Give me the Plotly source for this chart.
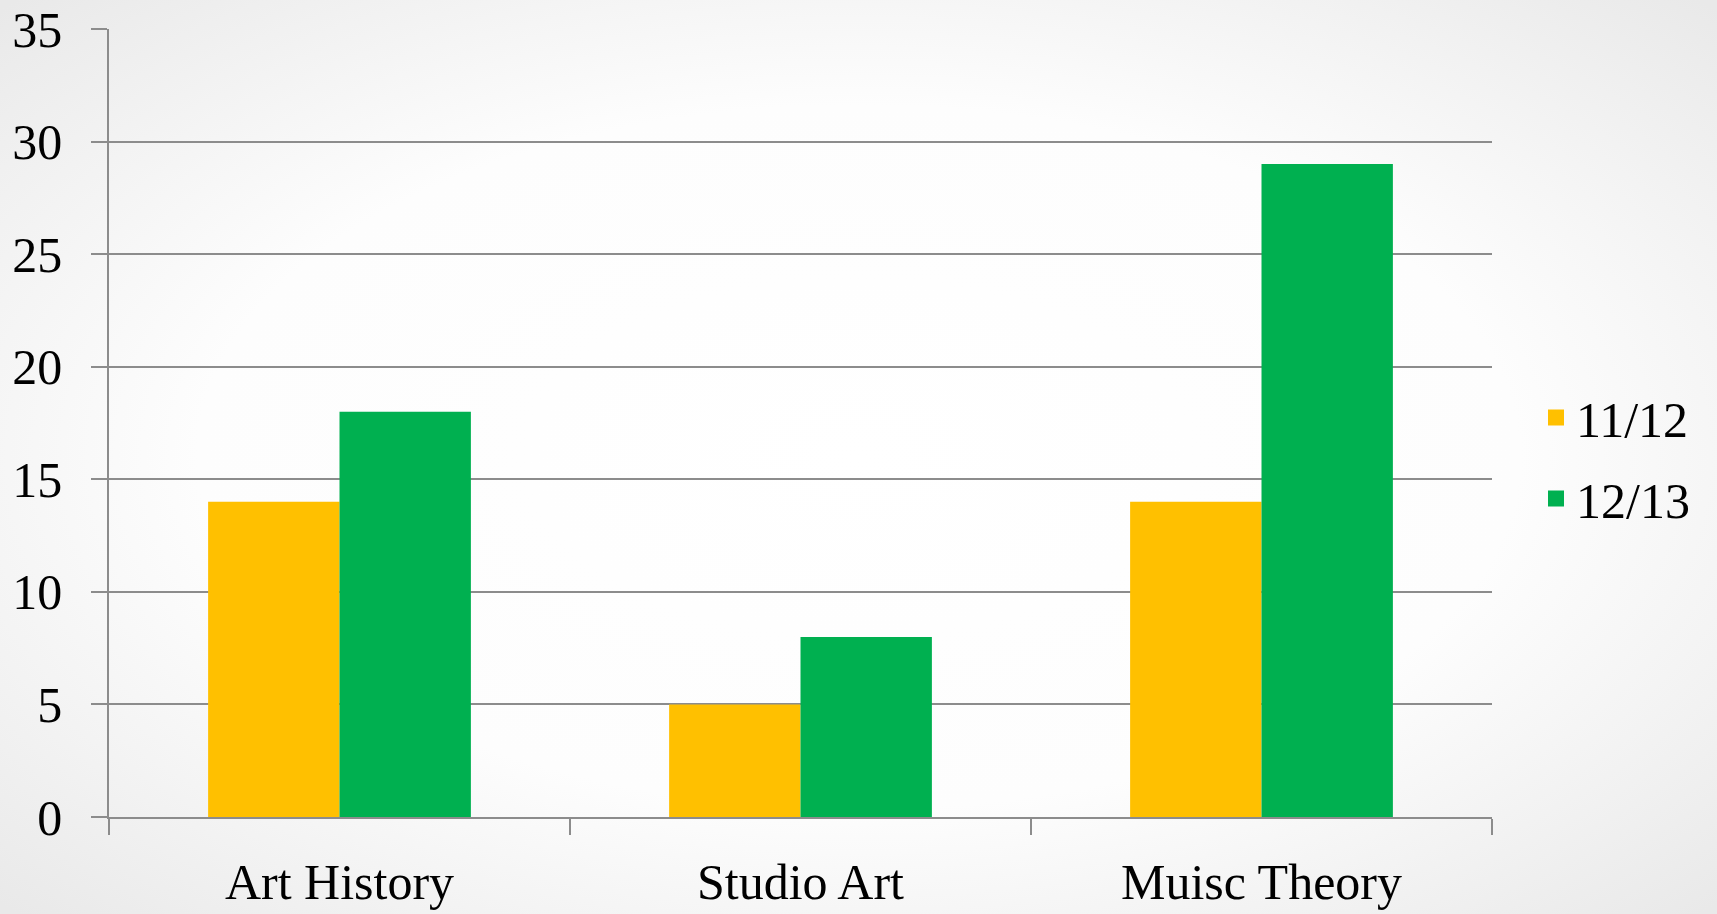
import plotly.graph_objects as go
import urllib.parse

categories = ["Art History", "Studio Art", "Muisc Theory"]
series_names = ["11/12", "12/13"]
values_1112 = [14, 5, 14]
values_1213 = [18, 8, 29]
colors = ["#FFC000", "#00B050"]
y_ticks = [0, 5, 10, 15, 20, 25, 30, 35]

W, H = 1717, 914
ML, MR, MT, MB = 109, 225, 29, 97
PW, PH = W - ML - MR, H - MT - MB

FONT = "Palatino Linotype, Book Antiqua, Palatino, Liberation Serif, serif"
FS = 50

fig = go.Figure()
for name, vals, col in zip(series_names, [values_1112, values_1213], colors):
    fig.add_trace(go.Bar(x=categories, y=vals, name=name, marker=dict(color=col, line=dict(width=0)),
                         showlegend=False))
    fig.add_trace(go.Scatter(x=[None], y=[None], mode="markers", name=name, legendgroup=name,
                             marker=dict(symbol="square", size=30, color=col)))

svg = (f'<svg xmlns="http://www.w3.org/2000/svg" width="{W}" height="{H}">'
       '<defs><radialGradient id="g" cx="50%" cy="50%" r="70%">'
       '<stop offset="0%" stop-color="#ffffff"/><stop offset="55%" stop-color="#fdfdfd"/>'
       '<stop offset="100%" stop-color="#e9e9e9"/></radialGradient></defs>'
       f'<rect width="{W}" height="{H}" fill="url(#g)"/></svg>')
src = "data:image/svg+xml;charset=utf-8," + urllib.parse.quote(svg)

fig.update_layout(
    width=W, height=H,
    margin=dict(l=ML, r=MR, t=MT, b=MB, autoexpand=False),
    paper_bgcolor="#f0f0f0",
    plot_bgcolor="rgba(0,0,0,0)",
    barmode="group", bargap=0.43, bargroupgap=0,
    font=dict(family=FONT, size=FS, color="black"),
    images=[dict(source=src, xref="paper", yref="paper",
                 x=-ML / PW, y=1 + MT / PH, sizex=W / PW, sizey=H / PH,
                 xanchor="left", yanchor="top", sizing="stretch", layer="below")],
    legend=dict(x=(1536 - ML) / PW, y=(817 - 458) / PH, xanchor="left", yanchor="middle",
                font=dict(size=FS, family=FONT), itemsizing="trace",
                bgcolor="rgba(0,0,0,0)", tracegroupgap=13),
    xaxis=dict(tickson="boundaries", ticks="outside", ticklen=16, tickcolor="#8c8c8c", tickwidth=1.5,
               showline=True, linecolor="#8c8c8c", linewidth=1.5, showgrid=False, automargin=False,
               tickfont=dict(size=FS, family=FONT), ticklabelstandoff=20),
    yaxis=dict(range=[0, 35], tickvals=y_ticks, ticks="outside", ticklen=16, tickcolor="#8c8c8c",
               tickwidth=1.5, showline=True, linecolor="#8c8c8c", linewidth=1.5, automargin=False,
               showgrid=True, gridcolor="#8c8c8c", gridwidth=1.5, zeroline=False,
               ticklabeloverflow="allow",
               tickfont=dict(size=FS, family=FONT), ticklabelstandoff=19),
)

fig.write_html("out.html", config={"displayModeBar": False},
               post_script="document.body.style.margin='0';")
